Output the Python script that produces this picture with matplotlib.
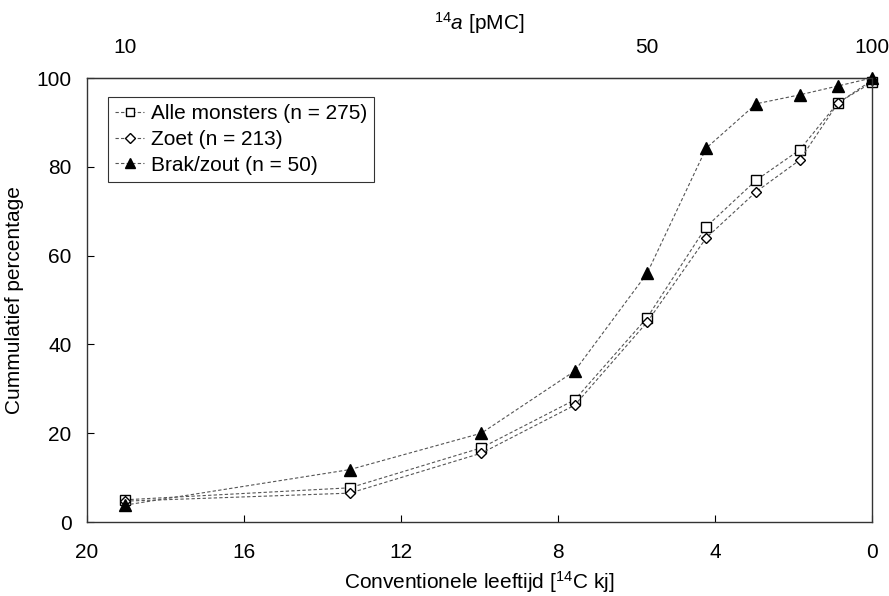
import numpy as np
import matplotlib.pyplot as plt

plt.rcParams['font.family'] = ['Liberation Sans', 'DejaVu Sans']
plt.rcParams['mathtext.fontset'] = 'custom'
plt.rcParams['mathtext.rm'] = 'Liberation Sans'
plt.rcParams['mathtext.it'] = 'Liberation Sans:italic'

# 14C activity classes [pMC] and cumulative percentages
pmc = [10, 20, 30, 40, 50, 60, 70, 80, 90, 100]
alle = [5.0, 7.7, 16.7, 27.5, 46.0, 66.5, 77.0, 83.8, 94.4, 99.0]
zoet = [4.7, 6.5, 15.5, 26.3, 45.0, 64.0, 74.4, 81.5, 94.3, 99.5]
brak = [3.8, 11.8, 20.0, 34.0, 56.0, 84.2, 94.2, 96.2, 98.2, 100.0]

top_ticks = [10, 50, 100]
bottom_ticks = [20, 16, 12, 8, 4, 0]
y_ticks = [0, 20, 40, 60, 80, 100]

# conventional age (kyr) from activity, mean life 8267 yr
def age(a):
    return -8.267 * np.log(np.asarray(a) / 100.0)

fs = 15
fig = plt.figure(figsize=(8.89, 5.96), dpi=100)
ax = fig.add_axes([87 / 889, 74 / 596, 785 / 889, 444 / 596])

x = age(pmc)
line_kw = dict(color='#555555', lw=0.8, ls=(0, (3, 2)), clip_on=False)
ax.plot(x, alle, marker='s', ms=7.5, mfc='white', mec='black', mew=1.0,
        label='Alle monsters (n = 275)', **line_kw)
ax.plot(x, zoet, marker='D', ms=5.5, mfc='white', mec='black', mew=1.0,
        label='Zoet (n = 213)', **line_kw)
ax.plot(x, brak, marker='^', ms=8.5, mfc='black', mec='black',
        label='Brak/zout (n = 50)', **line_kw)

ax.set_xlim(20, 0)
ax.set_ylim(0, 100)
ax.set_xticks(bottom_ticks)
ax.set_yticks(y_ticks)
ax.tick_params(direction='in', length=5, labelsize=fs, width=0.8)
ax.tick_params(axis='x', pad=15)
ax.tick_params(axis='y', pad=11)
for s in ax.spines.values():
    s.set_linewidth(1.0)
    s.set_color('#333333')

ax.set_xlabel(r'Conventionele leeftijd [$^{14}$C kj]', fontsize=fs, labelpad=5)
ax.set_ylabel('Cummulatief percentage', fontsize=fs, labelpad=9)

# top axis in pMC
top = ax.secondary_xaxis('top')
top.set_xticks(age(top_ticks))
top.set_xticklabels([str(t) for t in top_ticks])
top.tick_params(length=0, labelsize=fs, pad=15)
top.set_xlabel(r'$^{14}a$ [pMC]', fontsize=fs, labelpad=6)

leg = ax.legend(loc='upper left', bbox_to_anchor=(21 / 785, 1 - 19 / 444),
                fontsize=fs, frameon=True, fancybox=False, handlelength=1.4,
                handletextpad=0.3, borderpad=0.35, labelspacing=0.32,
                borderaxespad=0, markerscale=0.85)
leg.get_frame().set_edgecolor('black')
leg.get_frame().set_linewidth(0.8)

fig.savefig('out.png', dpi=100)
